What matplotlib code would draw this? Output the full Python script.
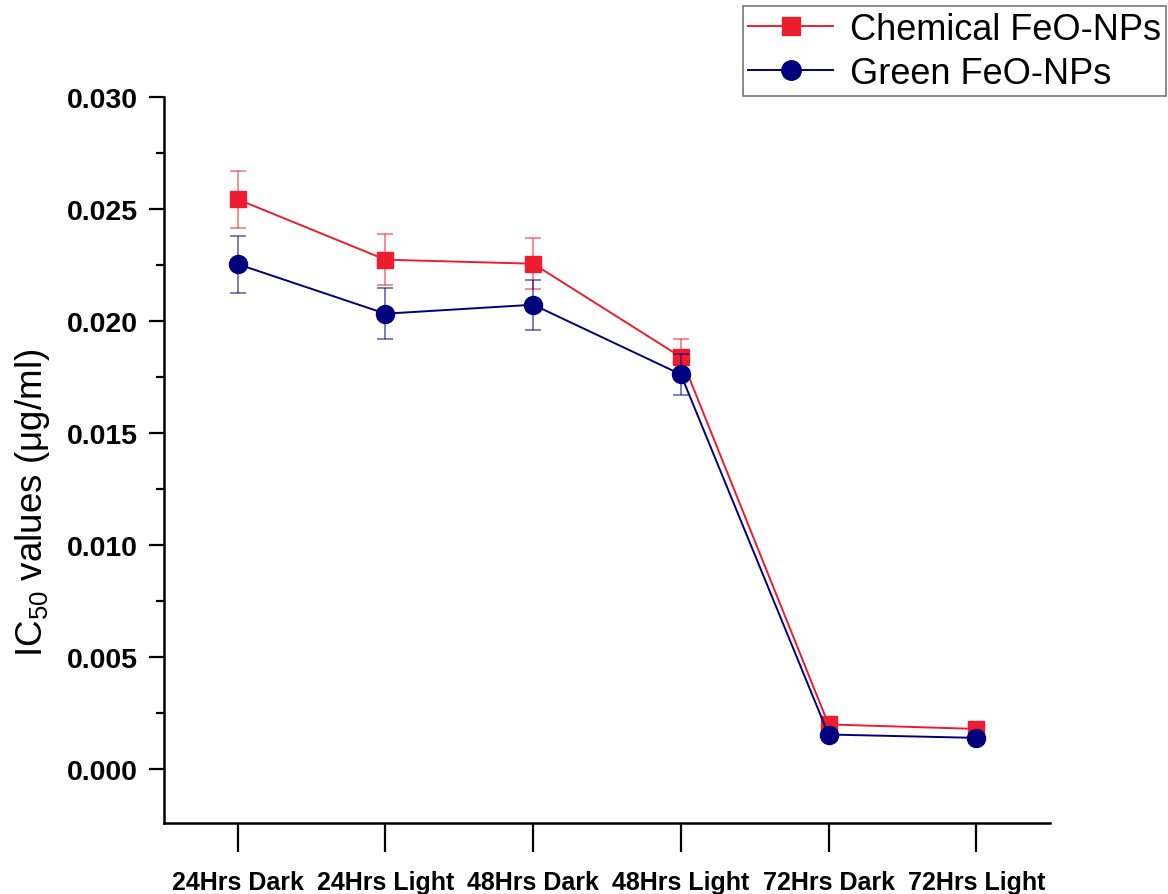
import matplotlib
matplotlib.use("Agg")
import matplotlib.pyplot as plt
from matplotlib.lines import Line2D
from matplotlib.ticker import MultipleLocator

plt.rcParams['font.family'] = ['Liberation Sans', 'DejaVu Sans']
plt.rcParams['mathtext.fontset'] = 'custom'
plt.rcParams['mathtext.rm'] = 'Liberation Sans'

# IC50 data
groups = ['24Hrs Dark', '24Hrs Light', '48Hrs Dark', '48Hrs Light', '72Hrs Dark', '72Hrs Light']
chemical = [0.02543, 0.02274, 0.02256, 0.01840, 0.00200, 0.00180]
chemical_err = [0.00127, 0.00114, 0.00114, 0.00080, 0.00015, 0.00015]
green = [0.02254, 0.02033, 0.02073, 0.01762, 0.00155, 0.00140]
green_err = [0.00127, 0.00115, 0.00112, 0.00092, 0.00015, 0.00015]

red = '#ED1C2E'
navy = '#00007F'
x = list(range(1, len(groups) + 1))

fig = plt.figure(figsize=(11.68, 8.95), dpi=100)
ax = fig.add_axes([0.1404, 0.0793, 0.7586, 0.8112])

ax.errorbar(x, chemical, yerr=chemical_err, color=red, lw=1.4, marker='s', ms=11.5,
            ecolor=(0.93, 0.11, 0.18, 0.55), elinewidth=1.3, capsize=5.5, capthick=1.3,
            zorder=3)
ax.errorbar(x, green, yerr=green_err, color=navy, lw=1.4, marker='o', ms=13,
            ecolor=(0.0, 0.0, 0.5, 0.55), elinewidth=1.3, capsize=5.5, capthick=1.3,
            zorder=4)

ax.set_xlim(0.5, 6.5)
ax.set_ylim(-0.0024, 0.030)
ax.set_xticks(x)
ax.set_xticklabels(groups, fontsize=18, fontweight='bold')
ax.yaxis.set_major_locator(MultipleLocator(0.005))
ax.yaxis.set_minor_locator(MultipleLocator(0.0025))
ax.set_yticklabels([f'{v:.3f}' for v in ax.get_yticks()], fontsize=20.5, fontweight='bold')

ax.tick_params(axis='y', which='major', length=11, width=1.6, pad=8)
ax.tick_params(axis='y', which='minor', length=6, width=1.6)
ax.tick_params(axis='x', which='major', length=21, width=1.6, pad=13)

for side in ['top', 'right']:
    ax.spines[side].set_visible(False)
for side in ['left', 'bottom']:
    ax.spines[side].set_linewidth(1.8)

ax.set_ylabel(r'IC$_{\mathrm{50}}$ values (μg/ml)', fontsize=26.5)
ax.yaxis.set_label_coords(-0.126, 0.442)

# legend shows plain line+marker handles, no error bars
handles = [
    Line2D([], [], color=red, lw=1.4, marker='s', ms=13),
    Line2D([], [], color=navy, lw=1.4, marker='o', ms=14),
]
leg = ax.legend(handles, ['Chemical FeO-NPs', 'Green FeO-NPs'],
                loc='upper right', bbox_to_anchor=(0.9983, 0.992), bbox_transform=fig.transFigure,
                fontsize=26, frameon=True, fancybox=False, handlelength=2.35,
                borderpad=0.15, labelspacing=0.25, handletextpad=0.45, borderaxespad=0)
leg.get_frame().set_edgecolor('#555555')
leg.get_frame().set_linewidth(1.2)

fig.savefig('out.png', dpi=100)
